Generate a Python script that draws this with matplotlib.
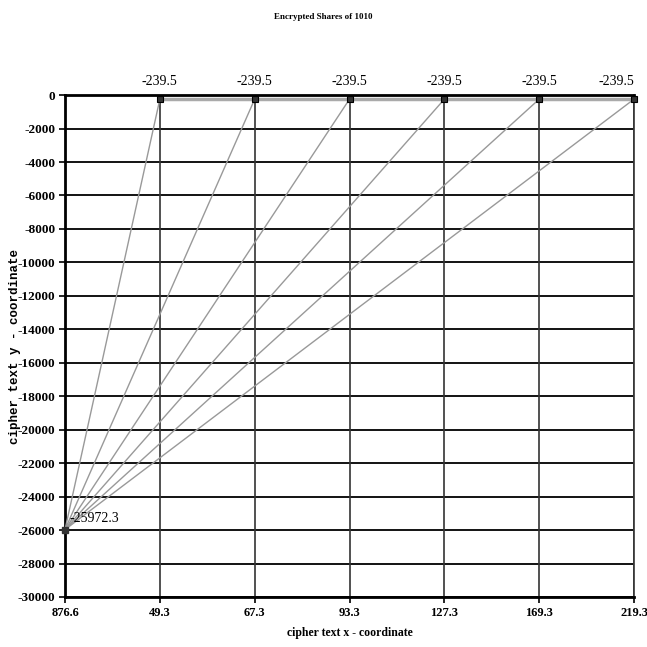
import numpy as np
import matplotlib.pyplot as plt

# x 轴是分类坐标
x_labels = ['876.6', '49.3', '67.3', '93.3', '127.3', '169.3', '219.3']
origin_y = -25972.3
share_y = [-239.5, -239.5, -239.5, -239.5, -239.5, -239.5]
yticks = np.arange(-30000, 1, 2000)

plt.rcParams['font.family'] = ['Liberation Serif', 'DejaVu Serif']
fig = plt.figure(figsize=(6.47, 6.47), dpi=100)
ax = fig.add_axes([0.1005, 0.0773, 0.8795, 0.7757])

pos = np.arange(len(x_labels))

# 网格线
for y in yticks:
    ax.axhline(y, color='black', lw=1.3, zorder=1)
for p in pos[1:]:
    ax.axvline(p, color='#333333', lw=1.2, zorder=1)

# 顶部连线
ax.plot(pos[1:], share_y, color='#aaaaaa', lw=2.5, zorder=2, clip_on=False)

# 从原点到每个份额的连线
for p, sy in zip(pos[1:], share_y):
    ax.plot([0, p], [origin_y, sy], color='#999999', lw=1.0, zorder=3)

ax.plot(pos[1:], share_y, 's', color='#333333', ms=5, mec='black', mew=0.8,
        zorder=4, clip_on=False)
ax.plot([0], [origin_y], 's', color='#333333', ms=4, zorder=4, clip_on=False)

for p, sy in zip(pos[1:], share_y):
    ha = 'right' if p == pos[-1] else 'center'
    ax.text(p, 400, f'{sy}', ha=ha, va='bottom', fontsize=10)
ax.text(0.05, origin_y + 300, f'{origin_y}', ha='left', va='bottom', fontsize=10)

ax.set_xlim(0, pos[-1])
ax.set_ylim(-30000, 0)
ax.set_xticks(pos)
ax.set_xticklabels(x_labels, fontsize=9, fontweight='bold')
ax.set_yticks(yticks)
ax.set_yticklabels([str(v) for v in yticks], fontsize=9.5, fontweight='bold')
ax.tick_params(direction='out', length=4, width=1.2, pad=3)

for s in ['left', 'bottom', 'top']:
    ax.spines[s].set_linewidth(2)
ax.spines['right'].set_linewidth(1.2)
ax.spines['right'].set_color('#333333')

ax.set_xlabel('cipher text x - coordinate', fontsize=8.5, fontweight='bold', labelpad=6)
ax.set_ylabel('cipher text y - coordinate', fontsize=9, fontweight='bold',
              family='Liberation Mono')
ax.yaxis.set_label_coords(-0.077, 0.5)
fig.text(0.5, 0.973, 'Encrypted Shares of 1010', ha='center', va='center',
         fontsize=6.5, fontweight='bold')

fig.savefig('out.png', dpi=100)
